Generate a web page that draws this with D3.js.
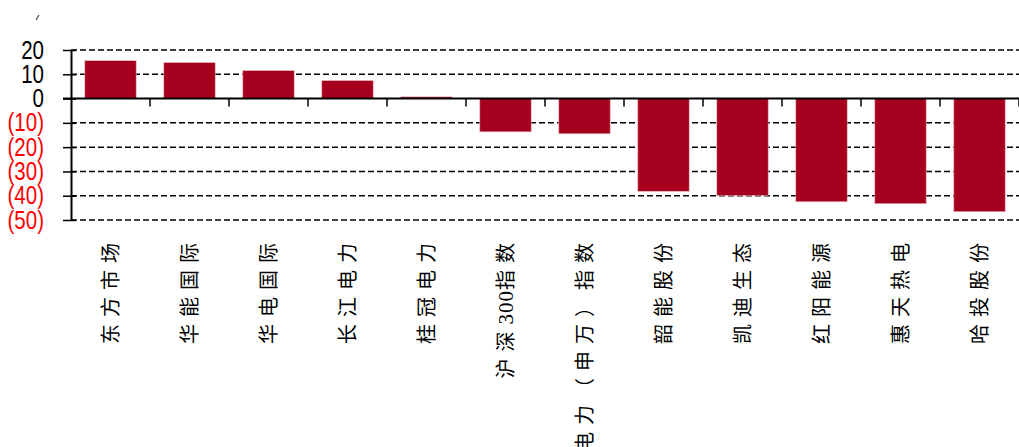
<!DOCTYPE html>
<html>
<head>
<meta charset="utf-8">
<script src="https://cdn.jsdelivr.net/npm/d3@7"></script>
<style>
  body { margin: 0; background: #fff; }
  svg { display: block; }
</style>
</head>
<body>
<div class="chart"></div>
<script>
// data
let companies = ["东方市场", "华能国际", "华电国际", "长江电力", "桂冠电力", "沪深300指数",
  "电力（申万）指数", "韶能股份", "凯迪生态", "红阳能源", "惠天热电", "哈投股份"];
let changes = [15.6, 14.8, 11.5, 7.4, 0.7, -13.7, -14.5, -38.2, -39.9, -42.5, -43.3, -46.6];
let yTicks = [20, 10, 0, -10, -20, -30, -40, -50];

let svgWidth = 1019;
let svgHeight = 447;
let margin = {top: 50, right: 0, bottom: 227, left: 71};
let width = svgWidth - margin.left - margin.right;
let height = svgHeight - margin.top - margin.bottom;

let svg = d3.select(".chart").append("svg")
  .attr("width", svgWidth)
  .attr("height", svgHeight);

let chartGroup = svg.append("g")
  .attr("transform", `translate(${margin.left}, ${margin.top})`);

let xScale = d3.scaleBand()
  .domain(companies)
  .range([0, width])
  .paddingInner(0.35)
  .paddingOuter(0.175);

let yScale = d3.scaleLinear()
  .domain([-50, 20])
  .range([height, 0]);

// dashed gridlines
chartGroup.selectAll(".grid")
  .data(yTicks.filter(d => d !== 0))
  .enter()
  .append("line")
  .attr("class", "grid")
  .attr("x1", 0)
  .attr("x2", width)
  .attr("y1", d => yScale(d))
  .attr("y2", d => yScale(d))
  .attr("stroke", "#000")
  .attr("stroke-width", 1.5)
  .attr("stroke-dasharray", "6,3");

// bars
chartGroup.selectAll("rect")
  .data(changes)
  .enter()
  .append("rect")
  .attr("x", (d, i) => xScale(companies[i]))
  .attr("width", xScale.bandwidth())
  .attr("y", d => yScale(Math.max(0, d)))
  .attr("height", d => Math.abs(yScale(d) - yScale(0)))
  .attr("fill", "#a6001e")
  .attr("stroke", "#e3b5bd")
  .attr("stroke-width", 0.6);

// y axis with ticks crossing the line
let leftAxis = d3.axisLeft(yScale)
  .tickValues(yTicks)
  .tickSizeInner(8)
  .tickSizeOuter(0)
  .tickPadding(19)
  .tickFormat(d => d < 0 ? `(${-d})` : d);

let yAxisGroup = chartGroup.append("g")
  .attr("class", "y-axis")
  .call(leftAxis);

yAxisGroup.select(".domain").attr("stroke", "#000").attr("stroke-width", 2);
yAxisGroup.selectAll(".tick line")
  .attr("x1", -8)
  .attr("x2", 5)
  .attr("stroke", "#000")
  .attr("stroke-width", 1.5);
// narrow look: squeeze the labels horizontally
let squeeze = 0.82;
yAxisGroup.selectAll(".tick text")
  .attr("x", -27 / squeeze)
  .attr("transform", `scale(${squeeze},1)`)
  .style("font-family", "'Liberation Sans', Arial, sans-serif")
  .style("font-size", "25px")
  .attr("fill", d => d < 0 ? "#ff0000" : "#000");

// zero line
chartGroup.append("line")
  .attr("x1", -8)
  .attr("x2", width)
  .attr("y1", yScale(0))
  .attr("y2", yScale(0))
  .attr("stroke", "#000")
  .attr("stroke-width", 2);

// category boundary ticks under zero line
let step = xScale.step();
let outer = xScale.paddingOuter() * step;
chartGroup.selectAll(".xtick")
  .data(companies)
  .enter()
  .append("line")
  .attr("class", "xtick")
  .attr("x1", d => xScale(d) - outer + step)
  .attr("x2", d => xScale(d) - outer + step)
  .attr("y1", yScale(0))
  .attr("y2", yScale(0) + 8)
  .attr("stroke", "#000")
  .attr("stroke-width", 1.5);

// vertical category labels; digits are kept tight, CJK glyphs spaced out
let labels = chartGroup.selectAll(".xlabel")
  .data(companies)
  .enter()
  .append("text")
  .attr("class", "xlabel")
  .attr("transform", d => `translate(${xScale(d) + xScale.bandwidth() / 2 + 7}, ${height + 16}) rotate(-90)`)
  .attr("text-anchor", "end")
  .style("font-family", "'Noto Sans CJK SC', sans-serif")
  .style("font-size", "20px")
  .attr("fill", "#000");

labels.selectAll("tspan")
  .data(d => d.match(/[0-9]+|[^0-9]/g))
  .enter()
  .append("tspan")
  .style("letter-spacing", t => /[0-9]/.test(t) ? "1px" : "7px")
  .style("font-family", t => /[0-9]/.test(t) ? "'Liberation Serif', serif" : null)
  .style("font-size", t => /[0-9]/.test(t) ? "21px" : null)
  .text(t => t);

// little mark at the top left
svg.append("line")
  .attr("x1", 36)
  .attr("y1", 20)
  .attr("x2", 39)
  .attr("y2", 15)
  .attr("stroke", "#444")
  .attr("stroke-width", 1.2);
</script>
</body>
</html>
